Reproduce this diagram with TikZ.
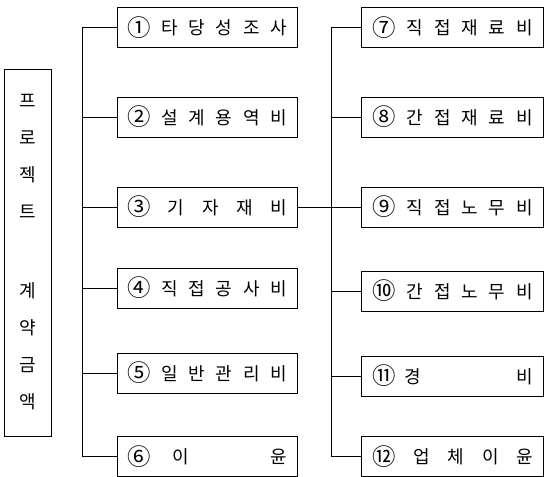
\documentclass[tikz,border=0pt]{standalone}
\usepackage{fontspec}
\setmainfont{Noto Sans CJK KR}
\usetikzlibrary{positioning}
\newcommand{\spread}[1]{\makebox[160pt][s]{#1}}
\newcommand{\circled}[1]{\raisebox{-1.5pt}{\scalebox{1.3}{#1}}}

\begin{document}
\begin{tikzpicture}[
  x=1pt, y=-1pt,
  font=\fontsize{18pt}{20pt}\selectfont,
  line width=0.8pt,
  node distance=6mm and 64pt,
  costbox/.style={draw,minimum width=180pt,minimum height=40pt,inner sep=0pt},
  total/.style={draw,minimum width=47pt,minimum height=367pt,inner sep=0pt,align=center,
    font=\fontsize{18pt}{37pt}\selectfont},
]
  \useasboundingbox (0,0) rectangle (544,477);

  \node[total] (contract) at (27.5,252.5) {프\\로\\젝\\트\\[42pt]계\\약\\금\\액};

  \node[costbox] (b1) at (207,27.5)  {\spread{\circled{①} 타 당 성 조 사}};
  \node[costbox] (b2) at (207,117)   {\spread{\circled{②} 설 계 용 역 비}};
  \node[costbox] (b3) at (207,207)   {\spread{\circled{③} 기 자 재 비}};
  \node[costbox] (b4) at (207,288)   {\spread{\circled{④} 직 접 공 사 비}};
  \node[costbox] (b5) at (207,373)   {\spread{\circled{⑤} 일 반 관 리 비}};
  \node[costbox] (b6) at (207,456.5) {\spread{\circled{⑥}\hspace{22pt}이\hfill 윤}};

  \node[costbox,minimum width=182pt,right=of b1] (b7)  {\spread{\circled{⑦} 직 접 재 료 비}};
  \node[costbox,minimum width=182pt,right=of b2] (b8)  {\spread{\circled{⑧} 간 접 재 료 비}};
  \node[costbox,minimum width=182pt,right=of b3] (b9)  {\spread{\circled{⑨} 직 접 노 무 비}};
  \node[costbox,minimum width=182pt,right=of b4,yshift=-3pt] (b10) {\spread{\circled{⑩} 간 접 노 무 비}};
  \node[costbox,minimum width=182pt,right=of b5,yshift=-3pt] (b11) {\spread{\circled{⑪}\hspace{8pt}경\hfill 비}};
  \node[costbox,minimum width=182pt,right=of b6] (b12) {\spread{\circled{⑫} 업 체 이 윤}};

  \coordinate (trunkL) at (82,0);
  \coordinate (trunkR) at (331,0);

  % left tree
  \draw (b1.west) -- (b1.west -| trunkL) -- (b6.west -| trunkL) -- (b6.west);
  \foreach \n in {2,...,5}
    \draw (b\n.west) -- (b\n.west -| trunkL);

  % right tree, fed by item 3
  \draw (b7.west) -- (b7.west -| trunkR) -- (b12.west -| trunkR) -- (b12.west);
  \foreach \n in {8,...,11}
    \draw (b\n.west) -- (b\n.west -| trunkR);
  \draw (b3.east) -- (b9.west);
\end{tikzpicture}
\end{document}
